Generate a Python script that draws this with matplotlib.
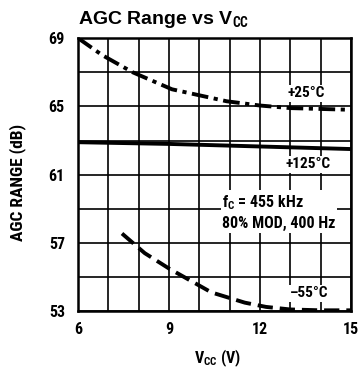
import numpy as np
import matplotlib.pyplot as plt
from matplotlib import font_manager

# pick a narrow bold face if one is installed
fam = 'DejaVu Sans'
have = set(f.name for f in font_manager.fontManager.ttflist)
for cand in ['Roboto Condensed', 'Archivo Narrow', 'Liberation Sans Narrow', 'Arimo']:
    if cand in have:
        fam = cand
        break
wide = 'Liberation Sans'

plt.rcParams['font.family'] = [fam, 'DejaVu Sans']
plt.rcParams['font.weight'] = 'bold'
plt.rcParams['axes.labelweight'] = 'bold'
plt.rcParams['axes.titleweight'] = 'bold'
plt.rcParams['mathtext.fontset'] = 'custom'
plt.rcParams['mathtext.rm'] = fam + ':bold'
plt.rcParams['mathtext.it'] = fam + ':bold'
plt.rcParams['mathtext.bf'] = fam + ':bold'
plt.rcParams['lines.scale_dashes'] = False

# values
v25 = [6.0, 6.8, 7.8, 9.1, 10.9, 12.0, 13.0, 14.0, 15.0]
agc25 = [69.0, 68.0, 67.0, 66.0, 65.3, 65.05, 64.9, 64.85, 64.8]

v125 = [6.0, 9.0, 12.0, 15.0]
agc125 = [62.9, 62.8, 62.65, 62.5]

vm55 = [7.45, 8.2, 9.0, 10.4, 11.5, 12.2, 13.0, 14.0, 15.0]
agcm55 = [57.55, 56.4, 55.5, 54.1, 53.5, 53.25, 53.1, 53.05, 53.05]

xticks = [6, 9, 12, 15]
yticks = [53, 57, 61, 65, 69]

fig = plt.figure(figsize=(3.58, 3.70), dpi=100)
ax = fig.add_axes([0.218, 0.159, 0.762, 0.738])

ax.plot(v25, agc25, color='black', lw=2.8, dashes=(12, 4, 3, 4))
ax.plot(v125, agc125, color='black', lw=2.8)
ax.plot(vm55, agcm55, color='black', lw=2.8, dashes=(11, 5))

ax.set_xlim(6, 15)
ax.set_ylim(53, 69)
ax.set_xticks(np.arange(6, 16, 1), minor=True)
ax.set_yticks(np.arange(53, 70, 2), minor=True)
ax.set_xticks(xticks)
ax.set_yticks(yticks)
ax.grid(which='both', color='black', lw=1.2)
ax.tick_params(which='both', length=0, labelsize=11.5)
ax.tick_params(axis='x', pad=8)
ax.tick_params(axis='y', pad=9.5)
for s in ax.spines.values():
    s.set_linewidth(1.8)

ax.set_xlabel('V$_{\\mathrm{CC}}$ (V)', fontsize=11.5)
ax.xaxis.set_label_coords(0.51, -0.135)
ax.set_ylabel('AGC RANGE (dB)', fontsize=12.5)
ax.yaxis.set_label_coords(-0.19, 0.47)
ax.set_title('AGC Range vs V$_{\\mathrm{CC}}$', fontsize=14, loc='left', pad=10,
             family=wide)

box = dict(facecolor='white', edgecolor='none', pad=1)
ax.text(12.9, 65.76, '+25°C', fontsize=11, ha='left', va='center', bbox=box)
ax.text(12.85, 61.6, '+125°C', fontsize=11, ha='left', va='center', bbox=box)
ax.text(10.75, 58.8, 'f$_{\\mathrm{C}}$ = 455 kHz\n80% MOD, 400 Hz', fontsize=11.5,
        ha='left', va='center', linespacing=1.35, bbox=box)
ax.text(13.0, 54.05, '–55°C', fontsize=11, ha='left', va='center', bbox=box)

fig.savefig('out.png', dpi=100)
